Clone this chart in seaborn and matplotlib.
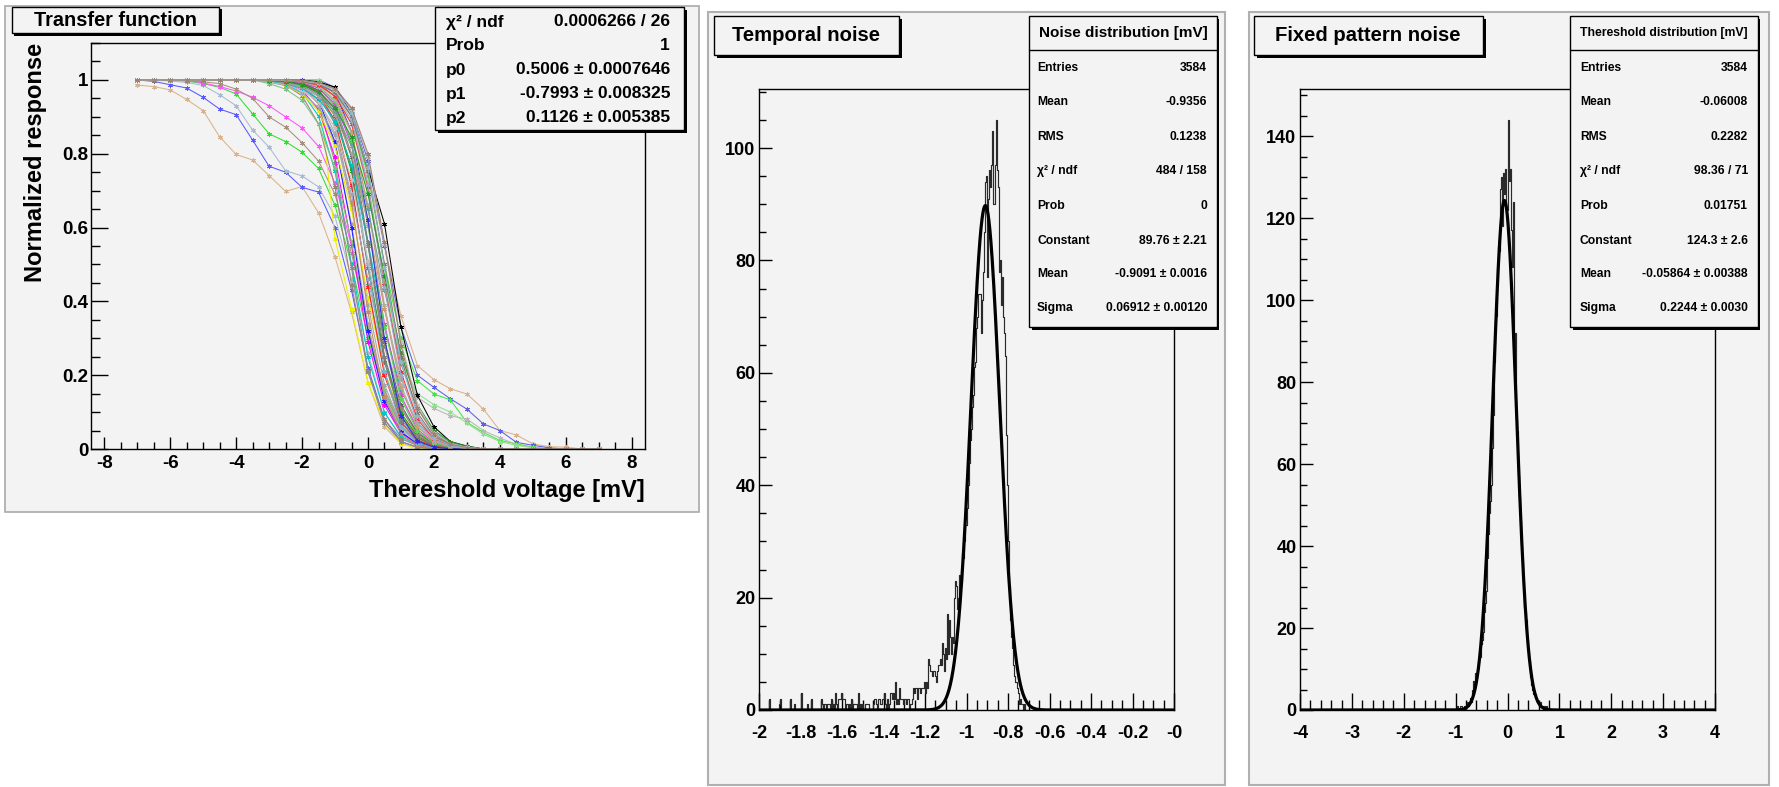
import numpy as np
import pandas as pd
import matplotlib
matplotlib.use("Agg")
import matplotlib.pyplot as plt
from matplotlib.patches import Rectangle
from matplotlib.lines import Line2D
from matplotlib.ticker import FixedLocator, MultipleLocator
import seaborn as sns

sns.set_theme(style="ticks")
plt.rcParams['font.family'] = ['Liberation Sans', 'DejaVu Sans']
plt.rcParams['font.weight'] = 'bold'
plt.rcParams['axes.unicode_minus'] = False

# ======================= DATA =======================
# --- Panel 1: transfer functions (normalized response vs threshold voltage) ---
tf_x = [-7.0, -6.5, -6.0, -5.5, -5.0, -4.5, -4.0, -3.5, -3.0, -2.5, -2.0, -1.5, -1.0, -0.5,
        0.0, 0.5, 1.0, 1.5, 2.0, 2.5, 3.0, 3.5, 4.0, 4.5, 5.0, 5.5, 6.0, 6.5, 7.0]
# bulk of the pixels: response at x = -3 ... 3 (1 below, 0 above that range)
bundle_x = [-3.0, -2.5, -2.0, -1.5, -1.0, -0.5, 0.0, 0.5, 1.0, 1.5, 2.0, 2.5, 3.0]
bundle_response = [
    [1.0, 1.0, 0.999, 0.995, 0.980, 0.910, 0.760, 0.610, 0.330, 0.145, 0.060, 0.020, 0.008],
    [1.0, 1.0, 1.0, 0.990, 0.570, 0.380, 0.180, 0.070, 0.014, 0.0, 0.0, 0.0, 0.0],
    [0.995, 0.986, 0.957, 0.881, 0.709, 0.445, 0.209, 0.080, 0.028, 0.009, 0.003, 0.001, 0.0],
    [0.996, 0.988, 0.966, 0.902, 0.752, 0.500, 0.248, 0.098, 0.034, 0.012, 0.004, 0.001, 0.0],
    [0.999, 0.996, 0.985, 0.935, 0.775, 0.490, 0.210, 0.070, 0.020, 0.005, 0.001, 0.0, 0.0],
    [0.997, 0.991, 0.972, 0.920, 0.791, 0.555, 0.291, 0.119, 0.043, 0.014, 0.005, 0.002, 0.0],
    [0.990, 0.975, 0.945, 0.880, 0.760, 0.560, 0.330, 0.160, 0.070, 0.030, 0.012, 0.005, 0.002],
    [0.998, 0.993, 0.978, 0.935, 0.826, 0.609, 0.339, 0.145, 0.053, 0.018, 0.006, 0.002, 0.001],
    [0.999, 0.996, 0.984, 0.945, 0.832, 0.600, 0.320, 0.130, 0.045, 0.015, 0.005, 0.001, 0.0],
    [0.998, 0.994, 0.982, 0.947, 0.855, 0.661, 0.391, 0.174, 0.065, 0.022, 0.007, 0.002, 0.001],
    [0.995, 0.985, 0.962, 0.915, 0.820, 0.650, 0.410, 0.210, 0.090, 0.040, 0.015, 0.006, 0.002],
    [1.0, 0.998, 0.992, 0.968, 0.880, 0.670, 0.370, 0.140, 0.040, 0.010, 0.002, 0.0, 0.0],
    [0.998, 0.995, 0.986, 0.957, 0.881, 0.709, 0.445, 0.209, 0.080, 0.028, 0.009, 0.003, 0.001],
    [0.999, 0.997, 0.990, 0.962, 0.890, 0.715, 0.440, 0.200, 0.072, 0.024, 0.008, 0.002, 0.0],
    [0.994, 0.984, 0.965, 0.925, 0.850, 0.690, 0.460, 0.250, 0.110, 0.045, 0.018, 0.007, 0.002],
    [0.999, 0.996, 0.988, 0.966, 0.902, 0.752, 0.500, 0.248, 0.098, 0.034, 0.012, 0.004, 0.001],
    [1.0, 0.998, 0.992, 0.972, 0.910, 0.760, 0.490, 0.235, 0.090, 0.030, 0.010, 0.003, 0.0],
    [1.0, 0.999, 0.996, 0.985, 0.940, 0.790, 0.500, 0.210, 0.060, 0.015, 0.004, 0.001, 0.0],
    [0.996, 0.988, 0.972, 0.940, 0.870, 0.730, 0.510, 0.290, 0.140, 0.060, 0.025, 0.010, 0.003],
    [0.999, 0.997, 0.991, 0.972, 0.920, 0.791, 0.555, 0.291, 0.119, 0.043, 0.014, 0.005, 0.002],
    [1.0, 0.998, 0.994, 0.978, 0.930, 0.800, 0.550, 0.280, 0.110, 0.038, 0.012, 0.004, 0.001],
    [0.997, 0.990, 0.977, 0.948, 0.890, 0.770, 0.560, 0.330, 0.160, 0.070, 0.030, 0.012, 0.004],
    [1.0, 1.0, 0.998, 0.990, 0.955, 0.830, 0.560, 0.250, 0.075, 0.020, 0.005, 0.001, 0.0],
    [0.999, 0.998, 0.993, 0.978, 0.935, 0.826, 0.609, 0.339, 0.145, 0.053, 0.018, 0.006, 0.002],
    [1.0, 0.999, 0.995, 0.982, 0.942, 0.835, 0.605, 0.330, 0.135, 0.048, 0.016, 0.005, 0.001],
    [0.998, 0.992, 0.980, 0.955, 0.905, 0.800, 0.610, 0.380, 0.190, 0.085, 0.035, 0.014, 0.005],
    [1.0, 1.0, 0.999, 0.992, 0.965, 0.860, 0.620, 0.300, 0.090, 0.022, 0.005, 0.001, 0.0],
    [0.999, 0.998, 0.994, 0.982, 0.947, 0.855, 0.661, 0.391, 0.174, 0.065, 0.022, 0.007, 0.002],
    [1.0, 0.999, 0.996, 0.986, 0.953, 0.860, 0.655, 0.380, 0.165, 0.060, 0.020, 0.006, 0.002],
    [0.998, 0.994, 0.984, 0.962, 0.915, 0.820, 0.650, 0.430, 0.230, 0.110, 0.045, 0.018, 0.006],
    [0.999, 0.998, 0.995, 0.986, 0.957, 0.881, 0.709, 0.445, 0.209, 0.080, 0.028, 0.009, 0.003],
    [1.0, 0.999, 0.997, 0.990, 0.965, 0.890, 0.715, 0.440, 0.200, 0.072, 0.024, 0.007, 0.002],
    [0.998, 0.995, 0.987, 0.968, 0.925, 0.845, 0.690, 0.470, 0.260, 0.120, 0.050, 0.020, 0.007],
    [1.0, 0.999, 0.996, 0.988, 0.966, 0.902, 0.752, 0.500, 0.248, 0.098, 0.034, 0.012, 0.004],
    [1.0, 1.0, 0.998, 0.992, 0.972, 0.910, 0.760, 0.490, 0.235, 0.090, 0.030, 0.010, 0.003],
    [1.0, 0.999, 0.997, 0.991, 0.972, 0.920, 0.791, 0.555, 0.291, 0.119, 0.043, 0.014, 0.005],
    [1.0, 1.0, 0.998, 0.993, 0.976, 0.925, 0.800, 0.560, 0.280, 0.110, 0.040, 0.013, 0.004],
]
bundle_colors = ['#000000', '#f0f000', '#9a8478', '#00c8c8', '#8c8c8c', '#ff00ff', '#7fbf7f',
                 '#b9a696', '#2020ff', '#a6a6a6', '#e6e600', '#c48a6a', '#6aa6a6', '#ff2020',
                 '#9ea4c0', '#10a010', '#86705e', '#80b4d0', '#c0c0c0', '#606060', '#9a8478',
                 '#00c0c0', '#7f7f7f', '#e040e0', '#59d454', '#b0a090', '#3030e0', '#b2b2b2',
                 '#c8a070', '#70a0a0', '#ff3030', '#a0a6c8', '#229922', '#8a7462', '#88b8d4',
                 '#bdbdbd', '#a08070']
# outlier pixels: full curves at tf_x
tan_shoulder = [0.986, 0.982, 0.973, 0.947, 0.917, 0.846, 0.798, 0.783, 0.741, 0.698, 0.711, 0.64, 0.52,
                0.37, 0.18, 0.06, 0.015, 0.003, 0, 0, 0, 0, 0, 0, 0, 0, 0, 0, 0]
blue_shoulder = [1.0, 0.996, 0.987, 0.978, 0.953, 0.921, 0.906, 0.837, 0.766, 0.75, 0.709, 0.696, 0.6,
                 0.43, 0.22, 0.08, 0.02, 0.005, 0, 0, 0, 0, 0, 0, 0, 0, 0, 0, 0]
steel_shoulder = [1.0, 0.999, 0.997, 0.993, 0.985, 0.96, 0.93, 0.864, 0.818, 0.754, 0.74, 0.71, 0.63,
                  0.46, 0.26, 0.1, 0.03, 0.01, 0, 0, 0, 0, 0, 0, 0, 0, 0, 0, 0]
green_shoulder = [1.0, 1.0, 0.999, 0.997, 0.99, 0.98, 0.962, 0.908, 0.854, 0.833, 0.804, 0.76, 0.66,
                  0.5, 0.3, 0.15, 0.06, 0.02, 0.005, 0, 0, 0, 0, 0, 0, 0, 0, 0, 0]
magenta_shoulder = [1.0, 1.0, 1.0, 0.998, 0.992, 0.982, 0.97, 0.953, 0.93, 0.9, 0.87, 0.82, 0.72,
                    0.55, 0.32, 0.14, 0.05, 0.01, 0, 0, 0, 0, 0, 0, 0, 0, 0, 0, 0]
brown_shoulder = [1.0, 1.0, 0.999, 0.998, 0.995, 0.99, 0.975, 0.95, 0.9, 0.872, 0.83, 0.78, 0.69,
                  0.53, 0.33, 0.16, 0.06, 0.02, 0, 0, 0, 0, 0, 0, 0, 0, 0, 0, 0]
tan_tail = [1, 1, 1, 1, 1, 1, 1, 1, 1, 1, 1, 0.995, 0.97, 0.9, 0.75, 0.55, 0.36, 0.226, 0.188, 0.163,
            0.149, 0.108, 0.05, 0.038, 0.014, 0.006, 0.005, 0, 0]
blue_tail = [1, 1, 1, 1, 1, 1, 1, 1, 1, 1, 1, 1, 0.98, 0.92, 0.78, 0.55, 0.33, 0.2, 0.167, 0.136,
             0.108, 0.068, 0.05, 0.018, 0.01, 0.003, 0, 0, 0]
green_tail = [1, 1, 1, 1, 1, 1, 1, 1, 1, 1, 1, 1, 0.97, 0.9, 0.74, 0.5, 0.3, 0.185, 0.149, 0.133,
              0.072, 0.045, 0.023, 0.014, 0.005, 0, 0, 0, 0]
gray_tail = [1, 1, 1, 1, 1, 1, 1, 1, 1, 1, 1, 1, 0.975, 0.9, 0.72, 0.46, 0.25, 0.14, 0.11, 0.09,
             0.081, 0.05, 0.03, 0.012, 0.004, 0, 0, 0, 0]
lime_tail = [1, 1, 1, 1, 1, 1, 1, 1, 1, 1, 1, 1, 0.96, 0.88, 0.7, 0.45, 0.24, 0.15, 0.12, 0.1,
             0.07, 0.04, 0.02, 0.01, 0.003, 0, 0, 0, 0]
outlier_curves = [tan_shoulder, blue_shoulder, steel_shoulder, green_shoulder, magenta_shoulder,
                  brown_shoulder, tan_tail, blue_tail, green_tail, gray_tail, lime_tail]
outlier_colors = ['#d9b38c', '#5a5aff', '#a8bccf', '#33dd33', '#ff55ff', '#a89080',
                  '#d9b38c', '#6060e0', '#3ee83e', '#b8b8b8', '#90e090']

tf_xticks = [-8, -6, -4, -2, 0, 2, 4, 6, 8]
tf_xticklabels = ['-8', '-6', '-4', '-2', '0', '2', '4', '6', '8']
tf_yticks = [0, 0.2, 0.4, 0.6, 0.8, 1.0]
tf_yticklabels = ['0', '0.2', '0.4', '0.6', '0.8', '1']
tf_stats_labels = ['χ² / ndf', 'Prob', 'p0', 'p1', 'p2']
tf_stats_values = ['0.0006266 / 26', '1', '0.5006 ± 0.0007646', '-0.7993 ± 0.008325', '0.1126 ± 0.005385']

# --- Panel 2: temporal noise histogram (bin width 0.005 mV, first bin edge -1.96) ---
tn_first_edge = -1.96
tn_bin_width = 0.005
tn_counts = [
    0, 0, 2, 0, 0, 0, 0, 0, 0, 0,
    0, 1, 2, 0, 0, 0, 0, 0, 0, 0,
    0, 0, 2, 0, 0, 0, 1, 0, 0, 0,
    0, 0, 3, 0, 0, 0, 0, 0, 1, 0,
    0, 0, 2, 0, 0, 0, 0, 0, 0, 0,
    0, 0, 2, 1, 0, 1, 1, 0, 1, 1,
    0, 2, 0, 1, 0, 3, 1, 0, 2, 2,
    2, 3, 2, 2, 2, 0, 1, 1, 0, 1,
    0, 2, 0, 1, 1, 1, 0, 3, 0, 1,
    0, 1, 0, 0, 1, 1, 1, 1, 0, 0,
    0, 0, 1, 2, 2, 1, 0, 2, 2, 1,
    1, 2, 3, 1, 0, 2, 0, 1, 3, 3,
    2, 3, 2, 5, 1, 2, 1, 4, 2, 2,
    2, 1, 2, 2, 1, 2, 2, 0, 1, 2,
    4, 3, 4, 4, 2, 4, 4, 3, 4, 4,
    4, 5, 3, 5, 4, 9, 8, 7, 7, 6,
    7, 7, 6, 5, 7, 8, 9, 8, 12, 10,
    7, 11, 9, 17, 10, 16, 13, 10, 13, 12,
    20, 23, 22, 18, 20, 24, 22, 23, 28, 27,
    30, 33, 36, 40, 44, 48, 50, 54, 56, 61,
    62, 68, 70, 74, 74, 74, 67, 73, 78, 85,
    94, 95, 77, 91, 96, 93, 97, 103, 90, 97,
    105, 96, 93, 78, 80, 72, 77, 70, 67, 63,
    49, 40, 30, 22, 16, 13, 11, 8, 6, 5,
    5, 4, 3, 1, 2, 1, 0, 1, 0, 0,
]
tn_fit_const, tn_fit_mean, tn_fit_sigma = 89.76, -0.9091, 0.06912
tn_xticks = [-2.0, -1.8, -1.6, -1.4, -1.2, -1.0, -0.8, -0.6, -0.4, -0.2, 0.0]
tn_xticklabels = ['-2', '-1.8', '-1.6', '-1.4', '-1.2', '-1', '-0.8', '-0.6', '-0.4', '-0.2', '-0']
tn_yticks = [0, 20, 40, 60, 80, 100]
stat_labels = ['Entries', 'Mean', 'RMS', 'χ² / ndf', 'Prob', 'Constant', 'Mean', 'Sigma']
tn_stats_values = ['3584', '-0.9356', '0.1238', '484 / 158', '0', '89.76 ± 2.21',
                   '-0.9091 ± 0.0016', '0.06912 ± 0.00120']

# --- Panel 3: fixed pattern noise histogram (bin width 0.02 mV, first bin edge -1.00) ---
fp_first_edge = -1.00
fp_bin_width = 0.02
fp_counts = [
    0, 1, 0, 0, 1, 1, 0, 0, 1, 0,
    1, 2, 1, 2, 3, 2, 5, 7, 6, 9,
    8, 10, 12, 13, 16, 17, 19, 24, 26, 29,
    37, 43, 48, 51, 55, 64, 72, 85, 95, 96,
    108, 113, 112, 127, 130, 118, 131, 126, 132, 122,
    144, 129, 132, 117, 108, 124, 85, 92, 71, 68,
    57, 52, 46, 40, 36, 30, 25, 24, 22, 17,
    14, 12, 8, 6, 5, 4, 4, 3, 2, 2,
    1, 2, 1, 1, 0, 1, 0, 1, 0, 0,
]
fp_fit_const, fp_fit_mean, fp_fit_sigma = 124.3, -0.05864, 0.2244
fp_xticks = [-4, -3, -2, -1, 0, 1, 2, 3, 4]
fp_xticklabels = ['-4', '-3', '-2', '-1', '0', '1', '2', '3', '4']
fp_yticks = [0, 20, 40, 60, 80, 100, 120, 140]
fp_stats_values = ['3584', '-0.06008', '0.2282', '98.36 / 71', '0.01751', '124.3 ± 2.6',
                   '-0.05864 ± 0.00388', '0.2244 ± 0.0030']

# ======================= FIGURE =======================
W, H = 1779, 787
BG = '#f3f3f3'
fig = plt.figure(figsize=(W / 100, H / 100), dpi=100, facecolor='white')


def fx(x):
    return x / W


def fy(y):
    return 1 - y / H


def rect(x0, y0, x1, y1, **kw):
    r = Rectangle((fx(x0), fy(y1)), fx(x1) - fx(x0), fy(y0) - fy(y1),
                  transform=fig.transFigure, **kw)
    fig.add_artist(r)
    return r


def shadow_box(x0, y0, x1, y1, off=2.5):
    rect(x0 + off, y0 + off, x1 + off, y1 + off, facecolor='black', edgecolor='none', zorder=9)
    rect(x0, y0, x1, y1, facecolor=BG, edgecolor='black', linewidth=1.0, zorder=10)


def ftext(x, y, s, size, ha='left', va='center', **kw):
    fig.text(fx(x), fy(y), s, fontsize=size, ha=ha, va=va, fontweight='bold',
             zorder=12, color='black', **kw)


# pads
rect(5, 6, 699, 512, facecolor=BG, edgecolor='#a9a9a9', linewidth=1.2, zorder=-5)
rect(708, 12, 1225, 785, facecolor=BG, edgecolor='#b0b0b0', linewidth=1.5, zorder=-5)
rect(1249, 12, 1769, 785, facecolor=BG, edgecolor='#b0b0b0', linewidth=1.5, zorder=-5)


def make_axes(x0, y0, x1, y1):
    ax = fig.add_axes([fx(x0), fy(y1), fx(x1) - fx(x0), fy(y0) - fy(y1)])
    ax.set_facecolor(BG)
    for s in ax.spines.values():
        s.set_color('black')
        s.set_linewidth(1.0)
        s.set_visible(True)
    ax.tick_params(axis='both', which='both', direction='in', color='black', width=1.0,
                   labelcolor='black')
    return ax


# ---------------- Panel 1 ----------------
ax1 = make_axes(91, 43, 645, 449)
rows = []
names = []
colors = {}
for i, resp in enumerate(outlier_curves):
    name = f'o{i:02d}'
    names.append(name)
    colors[name] = outlier_colors[i]
    for xv, yv in zip(tf_x, resp):
        rows.append((name, xv, yv))
for i, resp in enumerate(bundle_response):
    name = f'b{i:02d}'
    names.append(name)
    colors[name] = bundle_colors[i % len(bundle_colors)]
    full = [1.0] * 8 + list(resp) + [0.0] * 8
    for xv, yv in zip(tf_x, full):
        rows.append((name, xv, yv))
tf_df = pd.DataFrame(rows, columns=['curve', 'x', 'y'])
sns.lineplot(data=tf_df, x='x', y='y', hue='curve', hue_order=names, palette=colors,
             estimator=None, sort=False, legend=False, linewidth=0.75,
             marker=(6, 2, 0), markersize=3.4, markeredgewidth=0.7, ax=ax1)
for ln in ax1.get_lines():
    ln.set_markeredgecolor(ln.get_color())
ax1.set_xlim(-8.4, 8.4)
ax1.set_ylim(0, 1.1)
ax1.xaxis.set_major_locator(FixedLocator(tf_xticks))
ax1.set_xticklabels(tf_xticklabels, fontweight='bold')
ax1.xaxis.set_minor_locator(MultipleLocator(0.5))
ax1.yaxis.set_major_locator(FixedLocator(tf_yticks))
ax1.set_yticklabels(tf_yticklabels, fontweight='bold')
ax1.yaxis.set_minor_locator(MultipleLocator(0.05))
ax1.tick_params(axis='x', which='major', length=12 * 0.72, pad=4.3, labelsize=13.5)
ax1.tick_params(axis='x', which='minor', length=7 * 0.72)
ax1.tick_params(axis='y', which='major', length=17 * 0.72, pad=1.8, labelsize=13.5)
ax1.tick_params(axis='y', which='minor', length=9 * 0.72)
ax1.set_xlabel('')
ax1.set_ylabel('')
ftext(36, 43, 'Normalized response', 17, ha='center', va='top', rotation=90)
ftext(645, 497, 'Thereshold voltage [mV]', 17, ha='right', va='baseline')
shadow_box(12, 7, 219, 33)
ftext(115, 20.5, 'Transfer function', 14.3, ha='center')
shadow_box(435, 7, 684, 130)
for i, (lab, val) in enumerate(zip(tf_stats_labels, tf_stats_values)):
    yy = 22 + 24 * i
    ftext(446, yy, lab, 12.5)
    ftext(670, yy, val, 12.5, ha='right')


# ---------------- Panels 2 & 3 ----------------
def hist_panel(x0, x1, counts, first_edge, width, fit, xlim, ylim, xticks, xlabels, xminor,
               yticks, ymajor_len_px=13):
    ax = make_axes(x0, 89, x1, 710)
    edges = first_edge + width * np.arange(len(counts) + 1)
    centers = edges[:-1] + width / 2
    hdf = pd.DataFrame({'x': centers, 'count': np.asarray(counts, dtype=float)})
    sns.histplot(data=hdf, x='x', weights='count', bins=edges.tolist(), element='step',
                 fill=False, color='#2a2a2a', linewidth=0.85, ax=ax)
    const, mean, sigma = fit
    fx_ = np.linspace(xlim[0], xlim[1], 1601)
    fy_ = const * np.exp(-0.5 * ((fx_ - mean) / sigma) ** 2)
    sns.lineplot(x=fx_, y=fy_, color='black', linewidth=2.3, ax=ax)
    ax.set_xlim(*xlim)
    ax.set_ylim(*ylim)
    ax.xaxis.set_major_locator(FixedLocator(xticks))
    ax.set_xticklabels(xlabels, fontweight='bold')
    ax.xaxis.set_minor_locator(MultipleLocator(xminor))
    ax.yaxis.set_major_locator(FixedLocator(yticks))
    ax.set_yticklabels([str(v) for v in yticks], fontweight='bold')
    ax.yaxis.set_minor_locator(MultipleLocator(5))
    ax.tick_params(axis='x', which='major', length=17 * 0.72, pad=10.5, labelsize=13)
    ax.tick_params(axis='x', which='minor', length=10 * 0.72)
    ax.tick_params(axis='y', which='major', length=ymajor_len_px * 0.72, pad=2.6, labelsize=13)
    ax.tick_params(axis='y', which='minor', length=7 * 0.72)
    ax.set_xlabel('')
    ax.set_ylabel('')
    return ax


ax2 = hist_panel(759, 1174, tn_counts, tn_first_edge, tn_bin_width,
                 (tn_fit_const, tn_fit_mean, tn_fit_sigma), (-2.0, 0.0), (0, 110.5),
                 tn_xticks, tn_xticklabels, 0.05, tn_yticks)
ax3 = hist_panel(1300, 1715, fp_counts, fp_first_edge, fp_bin_width,
                 (fp_fit_const, fp_fit_mean, fp_fit_sigma), (-4.0, 4.0), (0, 151.5),
                 fp_xticks, fp_xticklabels, 0.2, fp_yticks)


def stats_box(x0, x1, header, header_size, values, lx, rx):
    shadow_box(x0, 16, x1, 327)
    fig.add_artist(Line2D([fx(x0), fx(x1)], [fy(50), fy(50)], color='black', linewidth=1.0,
                          transform=fig.transFigure, zorder=11))
    ftext((x0 + x1) / 2, 33, header, header_size, ha='center')
    row_y = [68, 102, 137, 171, 206, 241, 274, 308]
    for yy, lab, val in zip(row_y, stat_labels, values):
        ftext(lx, yy, lab, 8.7)
        ftext(rx, yy, val, 8.7, ha='right')


shadow_box(714, 16, 899, 55)
ftext(806, 35.5, 'Temporal noise', 14.6, ha='center')
stats_box(1029, 1217, 'Noise distribution [mV]', 11, tn_stats_values, 1037, 1207)

shadow_box(1254, 16, 1483, 55)
ftext(1368, 35.5, 'Fixed pattern noise', 14.6, ha='center')
stats_box(1570, 1758, 'Thereshold distribution [mV]', 8.8, fp_stats_values, 1580, 1748)

fig.savefig('out.png', dpi=100, facecolor='white')
